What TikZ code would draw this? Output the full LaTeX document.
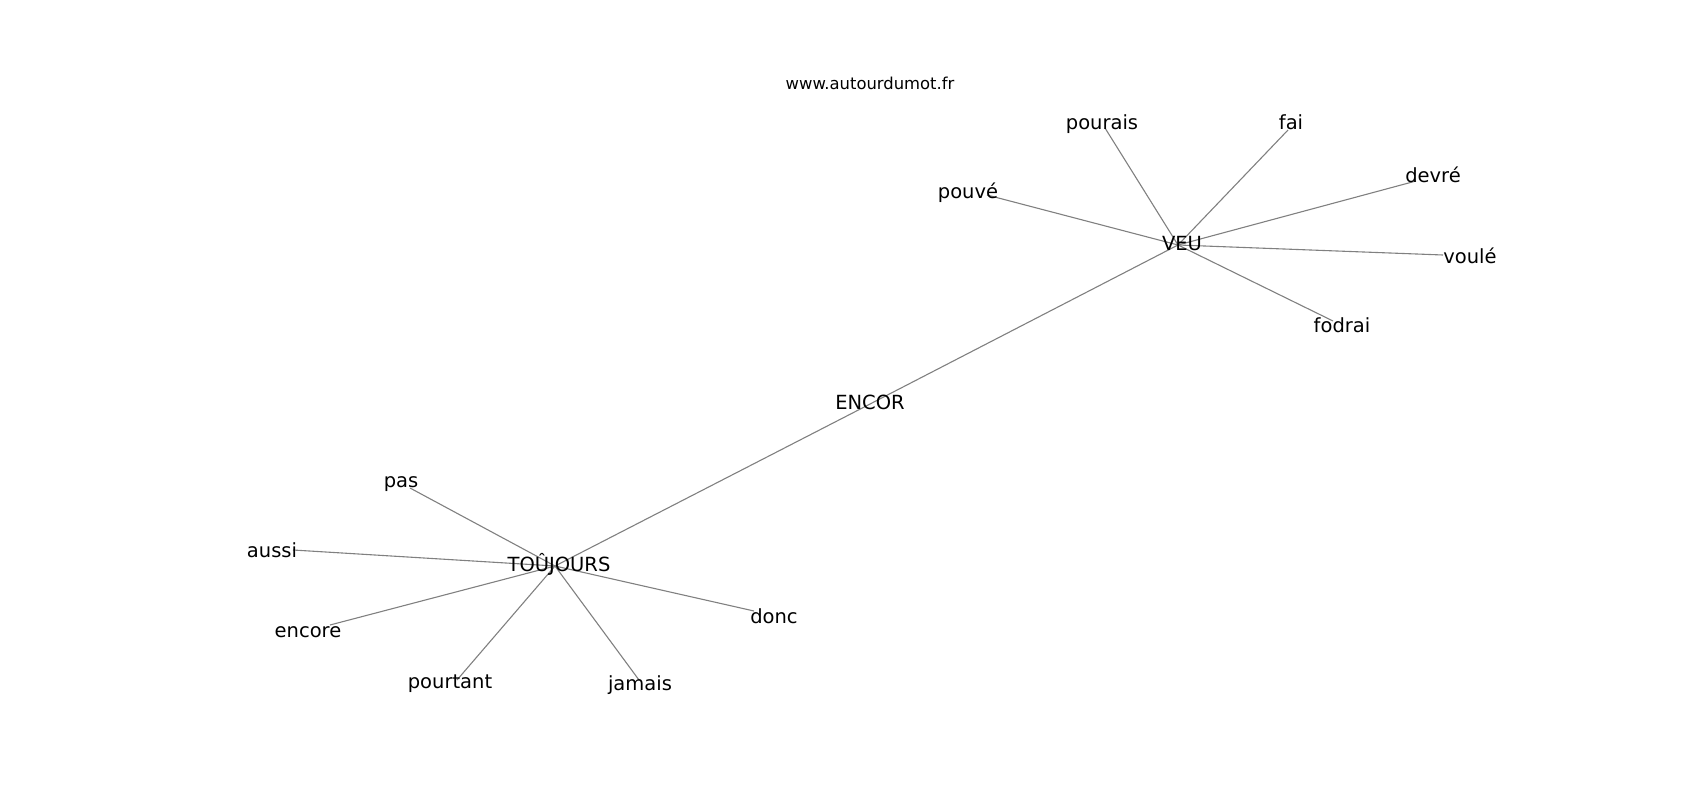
\documentclass[tikz,border=0pt]{standalone}
\usepackage{fontspec}
\setmainfont{DejaVu Sans}
\begin{document}
\begin{tikzpicture}[x=1pt,y=-1pt,
  lab/.style={inner sep=0pt,font=\fontsize{19.5}{22}\selectfont,text height=0.74em,text depth=0.22em,anchor=center,yshift=-5pt},
  edge/.style={draw=black!50,line width=1.1pt}]
\useasboundingbox (0,0) rectangle (1700,800);
% graph vertices
\coordinate (veu) at (1178,245);
\coordinate (touj) at (555,566);
\coordinate (encor) at (872,403);
\coordinate (pouve) at (987,195);
\coordinate (pourais) at (1105,128);
\coordinate (fai) at (1288,130);
\coordinate (devre) at (1416,181);
\coordinate (voule) at (1443,255);
\coordinate (fodrai) at (1333,321);
\coordinate (pas) at (410,488);
\coordinate (aussi) at (293,550);
\coordinate (encore) at (330,625);
\coordinate (pourtant) at (457,680);
\coordinate (jamais) at (639,680);
\coordinate (donc) at (754,611);
% edges
\foreach \n in {pouve,pourais,fai,devre,voule,fodrai} \draw[edge] (veu) -- (\n);
\foreach \n in {pas,aussi,encore,pourtant,jamais,donc} \draw[edge] (touj) -- (\n);
\draw[edge] (touj) -- (encor);
\draw[edge] (encor) -- (veu);
% labels
\node[inner sep=0pt,font=\fontsize{16.4}{19}\selectfont] (www) at (870,83) {www.autourdumot.fr};
\node[lab] (tveu) at (1182,243) {VEU};
\node[lab] (tencor) at (870,402) {ENCOR};
\node[lab] (ttouj) at (559,564) {TOÛJOURS};
\node[lab] (tpourais) at (1102,122) {pourais};
\node[lab] (tfai) at (1291,122) {fai};
\node[lab] (tdevre) at (1433,175) {devré};
\node[lab] (tpouve) at (968,191) {pouvé};
\node[lab] (tvoule) at (1470,256) {voulé};
\node[lab] (tfodrai) at (1342,325) {fodrai};
\node[lab] (tpas) at (401,480) {pas};
\node[lab] (taussi) at (272,550) {aussi};
\node[lab] (tencore) at (308,630) {encore};
\node[lab] (tdonc) at (774,616) {donc};
\node[lab] (tpourtant) at (450,681) {pourtant};
\node[lab] (tjamais) at (640,683) {jamais};
\end{tikzpicture}
\end{document}
